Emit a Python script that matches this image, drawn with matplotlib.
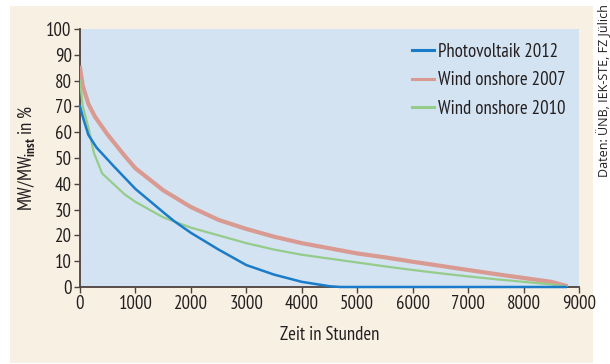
import matplotlib
matplotlib.use("Agg")
import matplotlib.pyplot as plt
from matplotlib.patches import Rectangle
from matplotlib.lines import Line2D

# ---- data ----
pv_hours = [0, 50, 150, 300, 600, 1000, 1500, 1700, 2000, 2500, 3000, 3500, 4000, 4500, 4700, 8760]
pv_vals = [70, 66, 59, 54, 47, 38, 29, 25.5, 21, 14.5, 8.5, 4.8, 2, 0.3, 0, 0]

w07_hours = [0, 50, 150, 270, 500, 800, 1000, 1500, 2000, 2500, 3000, 3500, 4000, 4500, 5000,
             5500, 6000, 6500, 7000, 7500, 8000, 8500, 8760]
w07_vals = [85, 78, 71, 66, 59, 51, 46, 37.5, 31, 26, 22.5, 19.5, 17, 15, 13,
            11.5, 9.8, 8.2, 6.6, 5, 3.5, 2, 0.5]

w10_hours = [0, 50, 150, 250, 400, 600, 800, 1000, 1500, 2000, 2500, 3000, 3500, 4000,
             4500, 5000, 5500, 6000, 6500, 7000, 7500, 8000, 8500, 8760]
w10_vals = [80, 70, 62, 52, 44, 40, 36, 33, 27, 23, 20, 17, 14.5, 12.5,
            11, 9.5, 8, 6.6, 5.3, 4.1, 3, 2, 1, 0.2]

labels = ["Photovoltaik 2012", "Wind onshore 2007", "Wind onshore 2010"]
x_ticks = list(range(0, 9001, 1000))
y_ticks = list(range(0, 101, 10))

plt.rcParams['font.family'] = ['PT Sans Narrow', 'DejaVu Sans']
plt.rcParams['mathtext.fontset'] = 'custom'
plt.rcParams['mathtext.rm'] = 'PT Sans Narrow'
plt.rcParams['mathtext.bf'] = 'PT Sans Narrow:bold'

W, H = 610, 364
fig = plt.figure(figsize=(W / 100, H / 100), dpi=100)
fig.patch.set_facecolor('white')

# cream panel
fig.add_artist(Rectangle((10 / W, 1 - 363 / H), (593 - 10) / W, (363 - 6) / H,
                         transform=fig.transFigure, facecolor='#f9f0e4',
                         edgecolor='none', zorder=-10))

ax = fig.add_axes([80 / W, 1 - 287 / H, (579 - 80) / W, (287 - 29) / H])
ax.set_zorder(1)
ax.set_facecolor('#d3e3f2')

c_pv = '#1a7cc9'
c_07 = '#d99a92'
c_10 = '#95cc8a'
colors = [c_pv, c_07, c_10]

ax.plot(w07_hours, w07_vals, color=c_07, lw=3.0, zorder=3)
ax.plot(w10_hours, w10_vals, color=c_10, lw=1.6, zorder=4)
ax.plot(pv_hours, pv_vals, color=c_pv, lw=1.8, zorder=5, clip_on=False)

ax.set_xlim(0, 9000)
ax.set_ylim(0, 100)
ax.set_xticks(x_ticks)
ax.set_yticks(y_ticks)
ax.set_xticklabels([str(v) for v in x_ticks])
ax.set_yticklabels([str(v) for v in y_ticks])

spc = '#4d423d'
for s in ['top', 'right']:
    ax.spines[s].set_visible(False)
for s in ['left', 'bottom']:
    ax.spines[s].set_color(spc)
    ax.spines[s].set_linewidth(1.3)
ax.tick_params(axis='both', colors=spc, length=4, width=1, labelsize=13.5,
               labelcolor='#231f20', pad=2)

ax.set_xlabel("Zeit in Stunden", fontsize=13.5, color='#231f20', labelpad=9)
ax.set_ylabel(r"MW/MW$_{\mathbf{inst}}$ in %", fontsize=13.5, color='#231f20', labelpad=6)

handles = [Line2D([], [], color=c, lw=2.2) for c in colors]
leg = ax.legend(handles, labels, loc='upper left', bbox_to_anchor=((410 - 80) / 499 - 0.012, 0.975),
                frameon=False, fontsize=13.5, handlelength=1.2, handletextpad=0.2,
                labelspacing=0.55, labelcolor='#231f20', borderaxespad=0)

fig.text(604 / W, 1 - 4 / H, "Daten: ÜNB, IEK-STE, FZ Jülich", rotation=90,
         ha='center', va='top', fontsize=9, color='#231f20',
         family=['Open Sans', 'DejaVu Sans'])

fig.savefig("out.png", dpi=100, facecolor=fig.get_facecolor())
